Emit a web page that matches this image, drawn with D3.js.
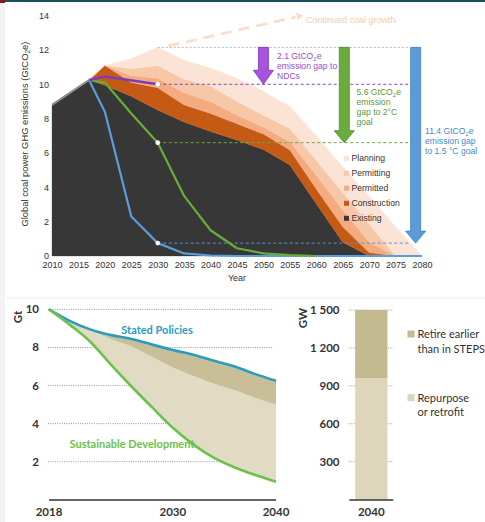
<!DOCTYPE html>
<html><head><meta charset="utf-8">
<script src="https://cdn.jsdelivr.net/npm/d3@7"></script>
<style>body{margin:0;background:#fff}svg{display:block}</style>
</head><body>
<script>
// ---------- Top chart data ----------
const years = [2010, 2017, 2020, 2025, 2030, 2035, 2040, 2045, 2050, 2055, 2060, 2065, 2070, 2075, 2080];
const existing     = [8.8, 10.25, 9.95, 9.3, 8.5, 7.8, 7.25, 6.75, 6.2, 5.3, 3.05, 0.8, 0, 0, 0];
const construction = [0, 0, 1.15, 0.8, 1.3, 1.0, 1.05, 0.95, 0.9, 0.87, 0.85, 0.9, 0.2, 0, 0];
const permitted    = [0, 0, 0, 0.4, 0.55, 0.7, 0.7, 0.5, 0.4, 0.49, 0.8, 1.0, 0.6, 0, 0];
const permitting   = [0, 0, 0, 0.4, 0.75, 0.8, 0.9, 0.8, 0.7, 0.77, 0.87, 1.0, 1.06, 0, 0];
const planning     = [0, 0, 0, 0.6, 1.05, 1.1, 1.05, 1.35, 1.4, 1.27, 1.43, 1.5, 1.64, 1.7, 0];
const layerNames = ["Existing", "Construction", "Permitted", "Permitting", "Planning"];
const layerColors = ["#373737", "#c55a14", "#f3ab7f", "#f7c8a7", "#fbe4d5"];

const ndcYears = [2017, 2020, 2030];
const ndcVals = [10.25, 10.45, 10.0];
const twoYears = [2017, 2020, 2025, 2030, 2035, 2040, 2045, 2050, 2055, 2060];
const twoVals = [10.25, 10.1, 8.3, 6.6, 3.5, 1.5, 0.45, 0.15, 0.05, 0];
const oneFiveYears = [2017, 2020, 2025, 2030, 2035, 2040, 2045, 2080];
const oneFiveVals = [10.25, 8.4, 2.3, 0.75, 0.15, 0.03, 0, 0];
const topYTicks = [0, 2, 4, 6, 8, 10, 12, 14];
const topXTicks = [2010, 2015, 2020, 2025, 2030, 2035, 2040, 2045, 2050, 2055, 2060, 2065, 2070, 2075, 2080];
const planningPeak = 12.15;

// ---------- Bottom-left data ----------
const weoYears = [2018, 2020, 2022, 2024, 2026, 2028, 2030, 2032, 2034, 2036, 2038, 2040];
const statedPolicies = [10, 9.4, 8.95, 8.65, 8.45, 8.15, 7.87, 7.62, 7.3, 7.0, 6.6, 6.25];
const retireBoundary = [10, 9.4, 8.9, 8.45, 8.05, 7.5, 6.95, 6.5, 6.1, 5.75, 5.35, 5.0];
const sustainableDev = [10, 9.2, 8.3, 7.1, 5.95, 4.85, 3.78, 2.9, 2.2, 1.7, 1.3, 0.95];
const gtTicks = [2, 4, 6, 8, 10];
const weoXTicks = [2018, 2030, 2040];

// ---------- Bottom-right data ----------
const barCategory = ["2040"];
const repurpose = [960];
const retireEarlier = [540];
const gwTicks = [300, 600, 900, 1200, 1500];
const gwTickLabels = ["300", "600", "900", "1 200", "1 500"];

const svg = d3.select("body").append("svg").attr("width", 485).attr("height", 522);
svg.append("rect").attr("width", 485).attr("height", 522).attr("fill", "#fff");
svg.append("rect").attr("x", 0).attr("y", 0).attr("width", 5).attr("height", 522).attr("fill", "#f3f3f3");
svg.append("rect").attr("x", 0).attr("y", 0).attr("width", 485).attr("height", 2).attr("fill", "#1d4e60");
svg.append("rect").attr("x", 0).attr("y", 0).attr("width", 5).attr("height", 3).attr("fill", "#7a1f1f");
svg.append("line").attr("x1", 6).attr("x2", 485).attr("y1", 298).attr("y2", 298).attr("stroke", "#ededed");

// ================= TOP CHART =================
const tg = svg.append("g").attr("font-family", "'Liberation Sans', Arial, sans-serif");
const x = d3.scaleLinear().domain([2010, 2080]).range([52, 422]);
const y = d3.scaleLinear().domain([0, 14]).range([256, 15.6]);

const table = years.map((yr, i) => ({
  year: yr, Existing: existing[i], Construction: construction[i], Permitted: permitted[i],
  Permitting: permitting[i], Planning: planning[i]
}));
const series = d3.stack().keys(layerNames)(table);
const area = d3.area().x(d => x(d.data.year)).y0(d => y(d[0])).y1(d => y(d[1]));
tg.selectAll("path.layer").data(series).join("path")
  .attr("class", "layer").attr("d", area)
  .attr("fill", (d, i) => layerColors[i]).attr("stroke", (d, i) => layerColors[i]).attr("stroke-width", 0.3);

// gray edge of historic existing
tg.append("path").attr("d", d3.line().x(d => x(d[0])).y(d => y(d[1]))([[2010, existing[0]], [2017, existing[1]]]))
  .attr("stroke", "#8c8c8c").attr("stroke-width", 2).attr("fill", "none");

// axes
const yAx = tg.append("g").attr("transform", "translate(52,0)")
  .call(d3.axisLeft(y).tickValues(topYTicks).tickSize(0).tickPadding(3));
yAx.select(".domain").remove();
yAx.selectAll("text").attr("font-size", 9).attr("fill", "#333").attr("font-family", "'Liberation Sans', Arial, sans-serif");
const xAx = tg.append("g").attr("transform", "translate(0,256)")
  .call(d3.axisBottom(x).tickValues(topXTicks).tickFormat(d3.format("d")).tickSize(0).tickPadding(6));
xAx.select(".domain").remove();
xAx.selectAll("text").attr("font-size", 9).attr("fill", "#333").attr("font-family", "'Liberation Sans', Arial, sans-serif");

tg.append("text").attr("x", x(2045)).attr("y", 281).attr("text-anchor", "middle")
  .attr("font-size", 9).attr("fill", "#333").text("Year");
const yt = tg.append("text").attr("transform", `translate(28,${y(7.1)}) rotate(-90)`)
  .attr("text-anchor", "middle").attr("font-size", 9.4).attr("fill", "#333");
yt.append("tspan").text("Global coal power GHG emissions (GtCO");
yt.append("tspan").attr("font-size", 6.5).attr("dy", 2).text("2");
yt.append("tspan").attr("dy", -2).text("e)");

// reference lines
const xEnd = 2077.6;
tg.append("line").attr("x1", x(2030)).attr("x2", x(xEnd)).attr("y1", y(planningPeak)).attr("y2", y(planningPeak))
  .attr("stroke", "#b5b5b5").attr("stroke-width", 1).attr("stroke-dasharray", "2,2");
const dashRefs = [[ndcVals[2], "#8a3fc8"], [twoVals[3], "#6aab3e"], [oneFiveVals[3], "#5a93cf"]];
dashRefs.forEach(([v, c]) => {
  tg.append("line").attr("x1", x(2030)).attr("x2", x(xEnd)).attr("y1", y(v)).attr("y2", y(v))
    .attr("stroke", c).attr("stroke-width", 1).attr("stroke-dasharray", "3,2.5");
});

// continued coal growth dashed arrow
tg.append("line").attr("x1", x(2032)).attr("y1", y(planningPeak) - 1.5).attr("x2", 296).attr("y2", 17)
  .attr("stroke", "#fbdcc8").attr("stroke-width", 2.6).attr("stroke-dasharray", "11,7");
tg.append("path").attr("d", "M296,12.5 L303,15.5 L297.5,20.5 Z").attr("fill", "#fbdcc8");
tg.append("text").attr("x", 306).attr("y", 22.5).attr("font-size", 9).attr("fill", "#f8cbab").text("Continued coal growth");

// scenario lines
const ln = d3.line().x(d => x(d[0])).y(d => y(d[1]));
tg.append("path").attr("d", ln(oneFiveYears.map((yr, i) => [yr, oneFiveVals[i]])))
  .attr("fill", "none").attr("stroke", "#5a9ddb").attr("stroke-width", 2.2).attr("stroke-linejoin", "round");
tg.append("path").attr("d", ln(twoYears.map((yr, i) => [yr, twoVals[i]])))
  .attr("fill", "none").attr("stroke", "#68ad3a").attr("stroke-width", 2.2).attr("stroke-linejoin", "round");
tg.append("path").attr("d", ln(ndcYears.map((yr, i) => [yr, ndcVals[i]])))
  .attr("fill", "none").attr("stroke", "#7a3bc0").attr("stroke-width", 2.4).attr("stroke-linejoin", "round");
[ndcVals[2], twoVals[3], oneFiveVals[3]].forEach(v => {
  tg.append("circle").attr("cx", x(2030)).attr("cy", y(v)).attr("r", 2.3).attr("fill", "#fff");
});

// gap arrows
function arrow(yr, vTop, vTip, fill, stroke, headH) {
  const xc = x(yr), yT = y(vTop), yP = y(vTip), sw = 5, hw = 10;
  tg.append("path")
    .attr("d", `M${xc - sw},${yT} L${xc + sw},${yT} L${xc + sw},${yP - headH} L${xc + hw},${yP - headH} L${xc},${yP} L${xc - hw},${yP - headH} L${xc - sw},${yP - headH} Z`)
    .attr("fill", fill).attr("stroke", stroke).attr("stroke-width", 0.8);
}
arrow(2050, planningPeak, ndcVals[2], "#a653df", "#7b34b5", 14);
arrow(2065.3, planningPeak, twoVals[3], "#6aab3e", "#4d8a2a", 12);
arrow(2078.8, planningPeak, oneFiveVals[3], "#5b9bd8", "#3d7fc2", 12);

function multiText(xp, baselines, lines, color) {
  lines.forEach((parts, i) => {
    const t = tg.append("text").attr("x", xp).attr("y", baselines[i]).attr("font-size", 8.6).attr("fill", color);
    parts.forEach(p => {
      if (typeof p === "object") {
        t.append("tspan").attr("font-size", 6).attr("dy", 2).text(p.subText);
        t.append("tspan").attr("dy", -2).text(p.after);
      } else t.append("tspan").text(p);
    });
  });
}
multiText(277, [59, 69, 78.5], [["2.1 GtCO", {subText: "2", after: "e"}], ["emission gap to"], ["NDCs"]], "#9a4bd0");
multiText(356.5, [95, 105, 115, 125], [["5.6 GtCO", {subText: "2", after: "e"}], ["emission"], ["gap to 2°C"], ["goal"]], "#5b9a36");
multiText(425, [133.5, 143.5, 153.5], [["11.4 GtCO", {subText: "2", after: "e"}], ["emission gap"], ["to 1.5 °C goal"]], "#4a88c8");

// legend
const legY = [158.3, 173.3, 188.3, 203.3, 218.3];
const legOrder = [4, 3, 2, 1, 0];
legOrder.forEach((li, k) => {
  tg.append("rect").attr("x", 344).attr("y", legY[k] - 2.5).attr("width", 5).attr("height", 5).attr("fill", layerColors[li]);
  tg.append("text").attr("x", 351.5).attr("y", legY[k] + 3).attr("font-size", 8.6).attr("fill", "#333").text(layerNames[li]);
});

// ================= BOTTOM-LEFT =================
const bl = svg.append("g").attr("font-family", "Lato, 'Open Sans', sans-serif");
const x2 = d3.scaleLinear().domain([2018, 2040]).range([49, 276]);
const y2 = d3.scaleLinear().domain([0, 10]).range([499.8, 309.4]);
gtTicks.forEach(v => {
  bl.append("line").attr("x1", 48).attr("x2", 273).attr("y1", y2(v)).attr("y2", y2(v))
    .attr("stroke", "#8a8a8a").attr("stroke-width", 0.9).attr("stroke-dasharray", "1,1.3");
  bl.append("text").attr("x", 39).attr("y", y2(v) + 4).attr("text-anchor", "end").attr("font-size", 11.5)
    .attr("font-weight", "bold").attr("fill", "#333").text(v);
});
const wdat = weoYears.map((yr, i) => ({yr, sp: statedPolicies[i], rb: retireBoundary[i], sd: sustainableDev[i]}));
bl.append("path").attr("d", d3.area().x(d => x2(d.yr)).y0(d => y2(d.sd)).y1(d => y2(d.rb)).curve(d3.curveMonotoneX)(wdat))
  .attr("fill", "#e1dbc3");
bl.append("path").attr("d", d3.area().x(d => x2(d.yr)).y0(d => y2(d.rb)).y1(d => y2(d.sp)).curve(d3.curveMonotoneX)(wdat))
  .attr("fill", "#c8bf98");
bl.append("path").attr("d", d3.line().x(d => x2(d.yr)).y(d => y2(d.sp)).curve(d3.curveMonotoneX)(wdat))
  .attr("fill", "none").attr("stroke", "#2a9cbf").attr("stroke-width", 2.6);
bl.append("path").attr("d", d3.line().x(d => x2(d.yr)).y(d => y2(d.sd)).curve(d3.curveMonotoneX)(wdat))
  .attr("fill", "none").attr("stroke", "#6dc14a").attr("stroke-width", 2.6);
bl.append("line").attr("x1", 49).attr("x2", 276).attr("y1", 500).attr("y2", 500).attr("stroke", "#333").attr("stroke-width", 1.4);
weoXTicks.forEach(t => {
  bl.append("text").attr("x", x2(t)).attr("y", 516).attr("text-anchor", "middle").attr("font-size", 11.5)
    .attr("font-weight", "bold").attr("fill", "#333").text(t);
});
bl.append("text").attr("transform", "translate(22,317) rotate(-90)").attr("text-anchor", "middle")
  .attr("font-size", 11.5).attr("font-weight", "bold").attr("fill", "#333").text("Gt");
bl.append("text").attr("x", 157).attr("y", 333.5).attr("text-anchor", "middle").attr("font-size", 11)
  .attr("font-weight", "bold").attr("fill", "#2a9cbf").text("Stated Policies");
bl.append("text").attr("x", 132).attr("y", 447.5).attr("text-anchor", "middle").attr("font-size", 11)
  .attr("font-weight", "bold").attr("fill", "#6dc14a").text("Sustainable Development");

// ================= BOTTOM-RIGHT =================
const br = svg.append("g").attr("font-family", "Lato, 'Open Sans', sans-serif");
const xb = d3.scaleBand().domain(barCategory).range([349.3, 393.3]).paddingInner(0).paddingOuter(0.18);
const yb = d3.scaleLinear().domain([0, 1500]).range([499.6, 310]);
gwTicks.forEach((v, i) => {
  br.append("line").attr("x1", 349).attr("x2", 393).attr("y1", yb(v)).attr("y2", yb(v))
    .attr("stroke", "#8a8a8a").attr("stroke-width", 0.9).attr("stroke-dasharray", "1,1.3");
  br.append("text").attr("x", 339.5).attr("y", yb(v) + 4).attr("text-anchor", "end").attr("font-size", 11.5)
    .attr("font-weight", "bold").attr("fill", "#333").text(gwTickLabels[i]);
});
barCategory.forEach((c, i) => {
  br.append("rect").attr("x", xb(c)).attr("width", xb.bandwidth()).attr("y", yb(repurpose[i]))
    .attr("height", yb(0) - yb(repurpose[i])).attr("fill", "#ddd6bb");
  br.append("rect").attr("x", xb(c)).attr("width", xb.bandwidth()).attr("y", yb(repurpose[i] + retireEarlier[i]))
    .attr("height", yb(repurpose[i]) - yb(repurpose[i] + retireEarlier[i])).attr("fill", "#c4ba8f");
  br.append("text").attr("x", xb(c) + xb.bandwidth() / 2).attr("y", 516).attr("text-anchor", "middle")
    .attr("font-size", 11.5).attr("font-weight", "bold").attr("fill", "#333").text(c);
});
br.append("line").attr("x1", 349.3).attr("x2", 393.3).attr("y1", 500).attr("y2", 500).attr("stroke", "#333").attr("stroke-width", 1.4);
br.append("text").attr("transform", "translate(307,318) rotate(-90)").attr("text-anchor", "middle")
  .attr("font-size", 11.5).attr("font-weight", "bold").attr("fill", "#333").text("GW");
const bleg = [
  {c: "#c4ba8f", y: 334, lines: ["Retire earlier", "than in STEPS"]},
  {c: "#ddd6bb", y: 397.7, lines: ["Repurpose", "or retrofit"]}
];
bleg.forEach(l => {
  br.append("rect").attr("x", 407.5).attr("y", l.y - 3.5).attr("width", 7).attr("height", 7).attr("fill", l.c);
  l.lines.forEach((s, k) => {
    br.append("text").attr("x", 417.5).attr("y", l.y + 4 + k * 14.5).attr("font-size", 11)
      .attr("fill", "#333").text(s);
  });
});
</script>
</body></html>
